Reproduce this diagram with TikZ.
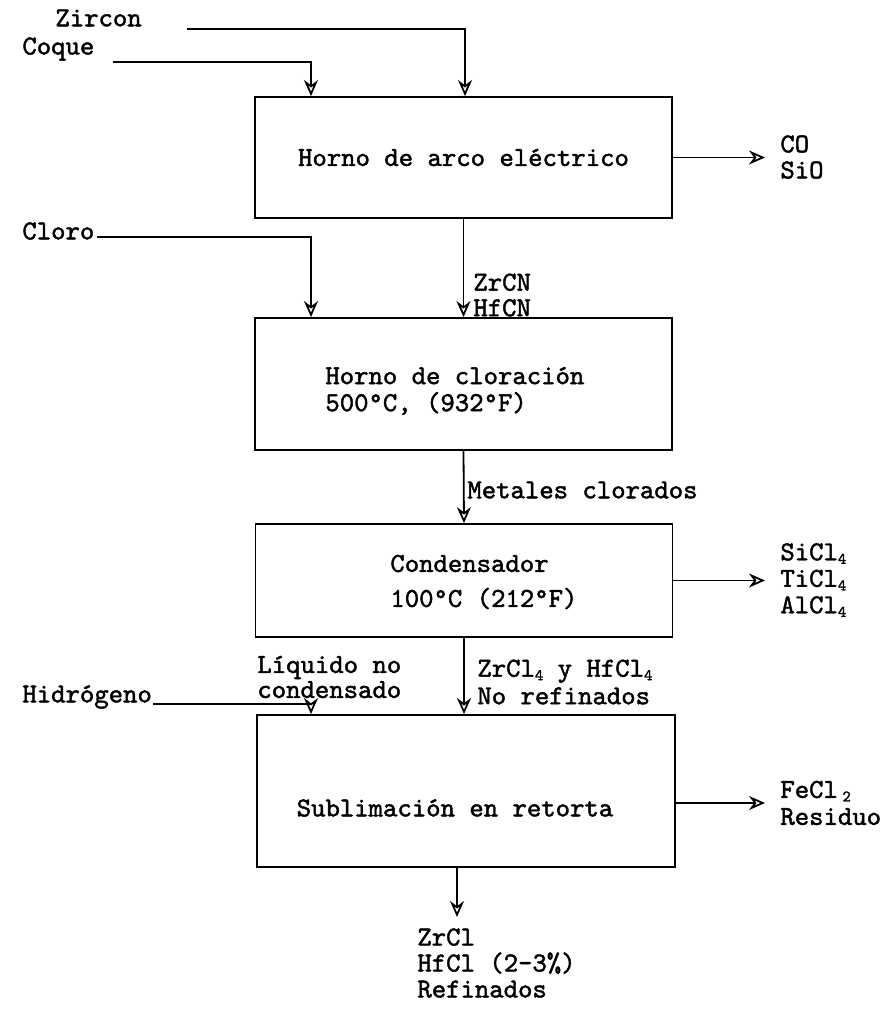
\documentclass[tikz,border=0pt]{standalone}
\usepackage{fontspec}
\setmainfont{lmmono10-regular.otf}[FakeBold=1.6]
\usetikzlibrary{arrows.meta}
\newcommand{\low}[1]{\raisebox{-0.3ex}{\footnotesize #1}}
\begin{document}
\begin{tikzpicture}[x=0.5pt, y=-0.5pt, >={Stealth[length=8pt,width=7pt,open]},
    font=\fontsize{13.7}{12}\selectfont,
    proc/.style={draw, line width=0.9pt, minimum width=208.5pt, inner sep=0pt},
    flow/.style={->, line width=0.9pt},
    lbl/.style={inner sep=0pt, align=left}]
    \useasboundingbox (0,0) rectangle (894,1013);
    % Boxes
    \node[proc, minimum height=60.5pt] (arco) at (463.5,157.5) {Horno de arco eléctrico};
    \node[proc, minimum height=66pt] (clor) at (463.5,384) {};
    \node[proc, minimum height=56.5pt] (cond) at (464,580.5) {};
    \node[proc, minimum width=209pt, minimum height=76pt] (subl) at (466,791) {};
    \node[lbl, anchor=west] (clort) at (325,391) {Horno de cloración\\[1.5pt]500°C, (932°F)};
    \node[lbl, anchor=west] (condt) at (390,582) {Condensador\\[5.5pt]100°C (212°F)};
    \node[lbl] (sublt) at (455,808) {Sublimación en retorta};

    % Labels
    \node[lbl, anchor=west] (zircon) at (55,18) {Zircon};
    \node[lbl, anchor=west] (coque) at (22,49) {Coque};
    \node[lbl, anchor=west] (cloro) at (22,231) {Cloro};
    \node[lbl, anchor=west] (hidro) at (22,697) {Hidrógeno};
    \node[lbl, anchor=west] (gas) at (780,157) {CO\\[1pt]SiO};
    \node[lbl, anchor=west] (zrcn) at (473,295) {ZrCN\\[0.8pt]HfCN};
    \node[lbl, anchor=west] (metal) at (467,490) {Metales clorados};
    \node[lbl, anchor=west] (volat) at (780,580) {SiCl\low4\\[1.25pt]TiCl\low4\\[1.25pt]AlCl\low4};
    \node[lbl, anchor=west] (liq) at (257,677) {Líquido no\\[0.5pt]condensado};
    \node[lbl, anchor=west] (crudo) at (477,682) {ZrCl\low4 y HfCl\low4\\[1.8pt]No refinados};
    \node[lbl, anchor=west] (resid) at (780,803) {FeCl\,\low2\\[1.5pt]Residuo};
    \node[lbl, anchor=north west] (refin) at (417,928) {ZrCl\\[1pt]HfCl (2--3\%)\\[1pt]Refinados};

    % Feeds
    \coordinate (zr0) at (187,29);
    \coordinate (cq0) at (113,62);
    \coordinate (cl0) at (97,237);
    \coordinate (h0) at (153,704);
    \coordinate (zrx) at (465,0);
    \coordinate (feedx) at (311,0);
    \draw[flow] (zr0) -| (arco.north -| zrx);
    \draw[flow] (cq0) -| (arco.north -| feedx);
    \draw[flow] (cl0) -| (clor.north -| feedx);
    \draw[flow] (h0) -| (subl.north -| feedx);

    % Main line
    \draw[flow] (arco.south) -- (clor.north);
    \draw[flow] (clor.south) -- (cond.north);
    \draw[flow] (cond.south) -- (cond.south |- subl.north);
    \coordinate (prod) at (457,917);
    \draw[flow] (subl.south -| prod) -- (prod);

    % Side outputs
    \coordinate (outx) at (765,0);
    \coordinate (fe) at ([yshift=-6pt]subl.east);
    \draw[flow] (arco.east) -- (arco.east -| outx);
    \draw[flow] (cond.east) -- (cond.east -| outx);
    \draw[flow] (fe) -- (fe -| outx);
\end{tikzpicture}
\end{document}
